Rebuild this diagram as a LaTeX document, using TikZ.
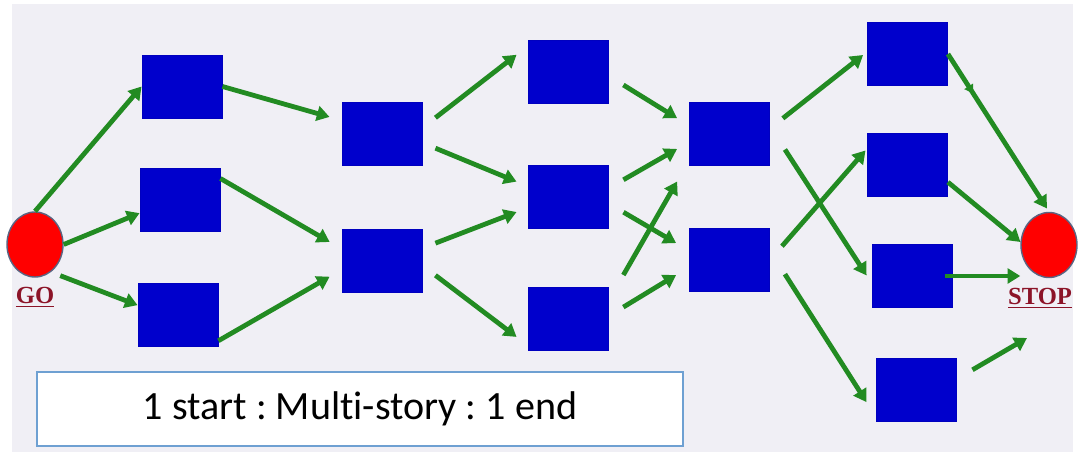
\documentclass[tikz,border=0pt]{standalone}
\usepackage{fontspec}
\setmainfont{Liberation Serif}
\newfontfamily\captionfont[Ligatures=NoCommon]{Carlito}
\usetikzlibrary{arrows.meta,shapes.geometric,decorations.markings}
\frenchspacing

\definecolor{boxblue}{RGB}{0,0,204}
\definecolor{flowgreen}{RGB}{34,139,34}
\definecolor{labelred}{RGB}{140,20,40}
\definecolor{paper}{RGB}{240,239,245}
\definecolor{frameblue}{RGB}{110,160,210}
\definecolor{rimgray}{RGB}{90,100,130}

\tikzset{
  task/.style={rectangle, fill=boxblue, draw=blue!75!black, line width=0.6pt,
    minimum width=2cm, minimum height=1.575cm, inner sep=0pt},
  terminal/.style={ellipse, fill=red, draw=rimgray, line width=1pt,
    minimum width=1.4cm, minimum height=1.625cm, inner sep=0pt},
  flow/.style={color=flowgreen, line width=3.4pt, -{Triangle[length=9pt,width=10.5pt]}},
  midtip/.style={postaction={decorate}, decoration={markings,
    mark=at position 0.25 with {\arrow{Triangle[length=6pt,width=7pt]}}}},
  tag/.style={font=\fontsize{17.5}{20}\selectfont\bfseries, text=labelred},
}

\begin{document}
\begin{tikzpicture}[x=0.025cm, y=-0.025cm]
  \useasboundingbox (0,0) rectangle (1078,457);
  \fill[paper] (12,4) rectangle (1073,452);

  % start and end
  \node[terminal] (go) at (35,244.5) {};
  \node[terminal] (stop) at (1049,245) {};
  \node[tag] (golbl) at (35,297) {\underline{GO}};
  \node[tag] (stoplbl) at (1040,298) {\underline{STOP}};

  % tasks, column by column
  \node[task] (b1a) at (182,86.5) {};
  \node[task] (b1b) at (180,200) {};
  \node[task] (b1c) at (178,314.5) {};
  \node[task] (b2a) at (382,133.5) {};
  \node[task] (b2b) at (382,260.5) {};
  \node[task] (b3a) at (568,71.5) {};
  \node[task] (b3b) at (568,197) {};
  \node[task] (b3c) at (568,319) {};
  \node[task] (b4a) at (729.5,133.5) {};
  \node[task] (b4b) at (729.5,260) {};
  \node[task] (b5a) at (907.5,54) {};
  \node[task] (b5b) at (907.5,165) {};
  \node[task] (b5c) at (912,276) {};
  \node[task] (b5d) at (916,390) {};
  \coordinate (loose) at (1027,338);

  % flows
  \draw[flow] (go.north) -- (b1a.west);
  \draw[flow] (go.east) -- (b1b.198);
  \draw[flow, shorten <=7.1pt] (go.-60) -- (b1c.167);

  \draw[flow, shorten >=8.9pt] (b1a.east) -- (b2a.162);
  \draw[flow, shorten >=9.8pt] (b1b.28) -- (b2b.164);
  \draw[flow, shorten >=9.8pt] (b1c.-33) -- (b2b.193);

  \draw[flow, shorten <=11.7pt, shorten >=9.9pt] (b2a.8) -- (b3a.148);
  \draw[flow, shorten <=10pt, shorten >=8.5pt] (b2a.-13) -- (b3b.165);
  \draw[flow, shorten <=9.9pt, shorten >=8.4pt] (b2b.17) -- (b3b.195);
  \draw[flow, shorten <=11.6pt, shorten >=9.8pt] (b2b.-7) -- (b3c.213);

  \draw[flow, shorten <=12.5pt, shorten >=10pt] (b3a.-6) -- (b4a.169);
  \draw[flow, shorten <=12.3pt, shorten >=9.8pt] (b3b.12) -- (b4a.192);
  \draw[flow, shorten <=12.4pt, shorten >=10.7pt] (b3b.-9) -- (b4b.167);
  \draw[flow, shorten <=21.3pt, shorten >=17pt] (b3c.24) -- (b4a.214);
  \draw[flow, shorten <=12.4pt, shorten >=10.8pt] (b3c.4) -- (b4b.190);

  \draw[flow, shorten <=11.7pt, shorten >=3.6pt] (b4a.7) -- (b5a.177);
  \draw[flow, shorten <=19.6pt, shorten >=6.5pt] (b4a.10) -- (b5c.190);
  \draw[flow, shorten <=13pt, shorten >=1.7pt] (b4b.0) -- (b5b.158);
  \draw[flow, shorten <=19.8pt, shorten >=11.9pt] (b4b.13) -- (b5d.213);

  \draw[flow, midtip, shorten >=2.8pt] (b5a.east) -- (stop.north);
  \draw[flow] (b5b.-23) -- (stop.174);
  \draw[flow, shorten <=-5pt] (b5c.east) -- (b5c.east -| stop.west);
  \draw[flow, shorten <=13.2pt] (b5d.15) -- (loose);

  % caption box
  \node[draw=frameblue, line width=1.2pt, fill=white, minimum width=16.15cm,
    minimum height=1.85cm, font=\captionfont\fontsize{28.5}{32}\selectfont]
    (caption) at (360,409) {1 start : Multi-story : 1 end};
\end{tikzpicture}
\end{document}
